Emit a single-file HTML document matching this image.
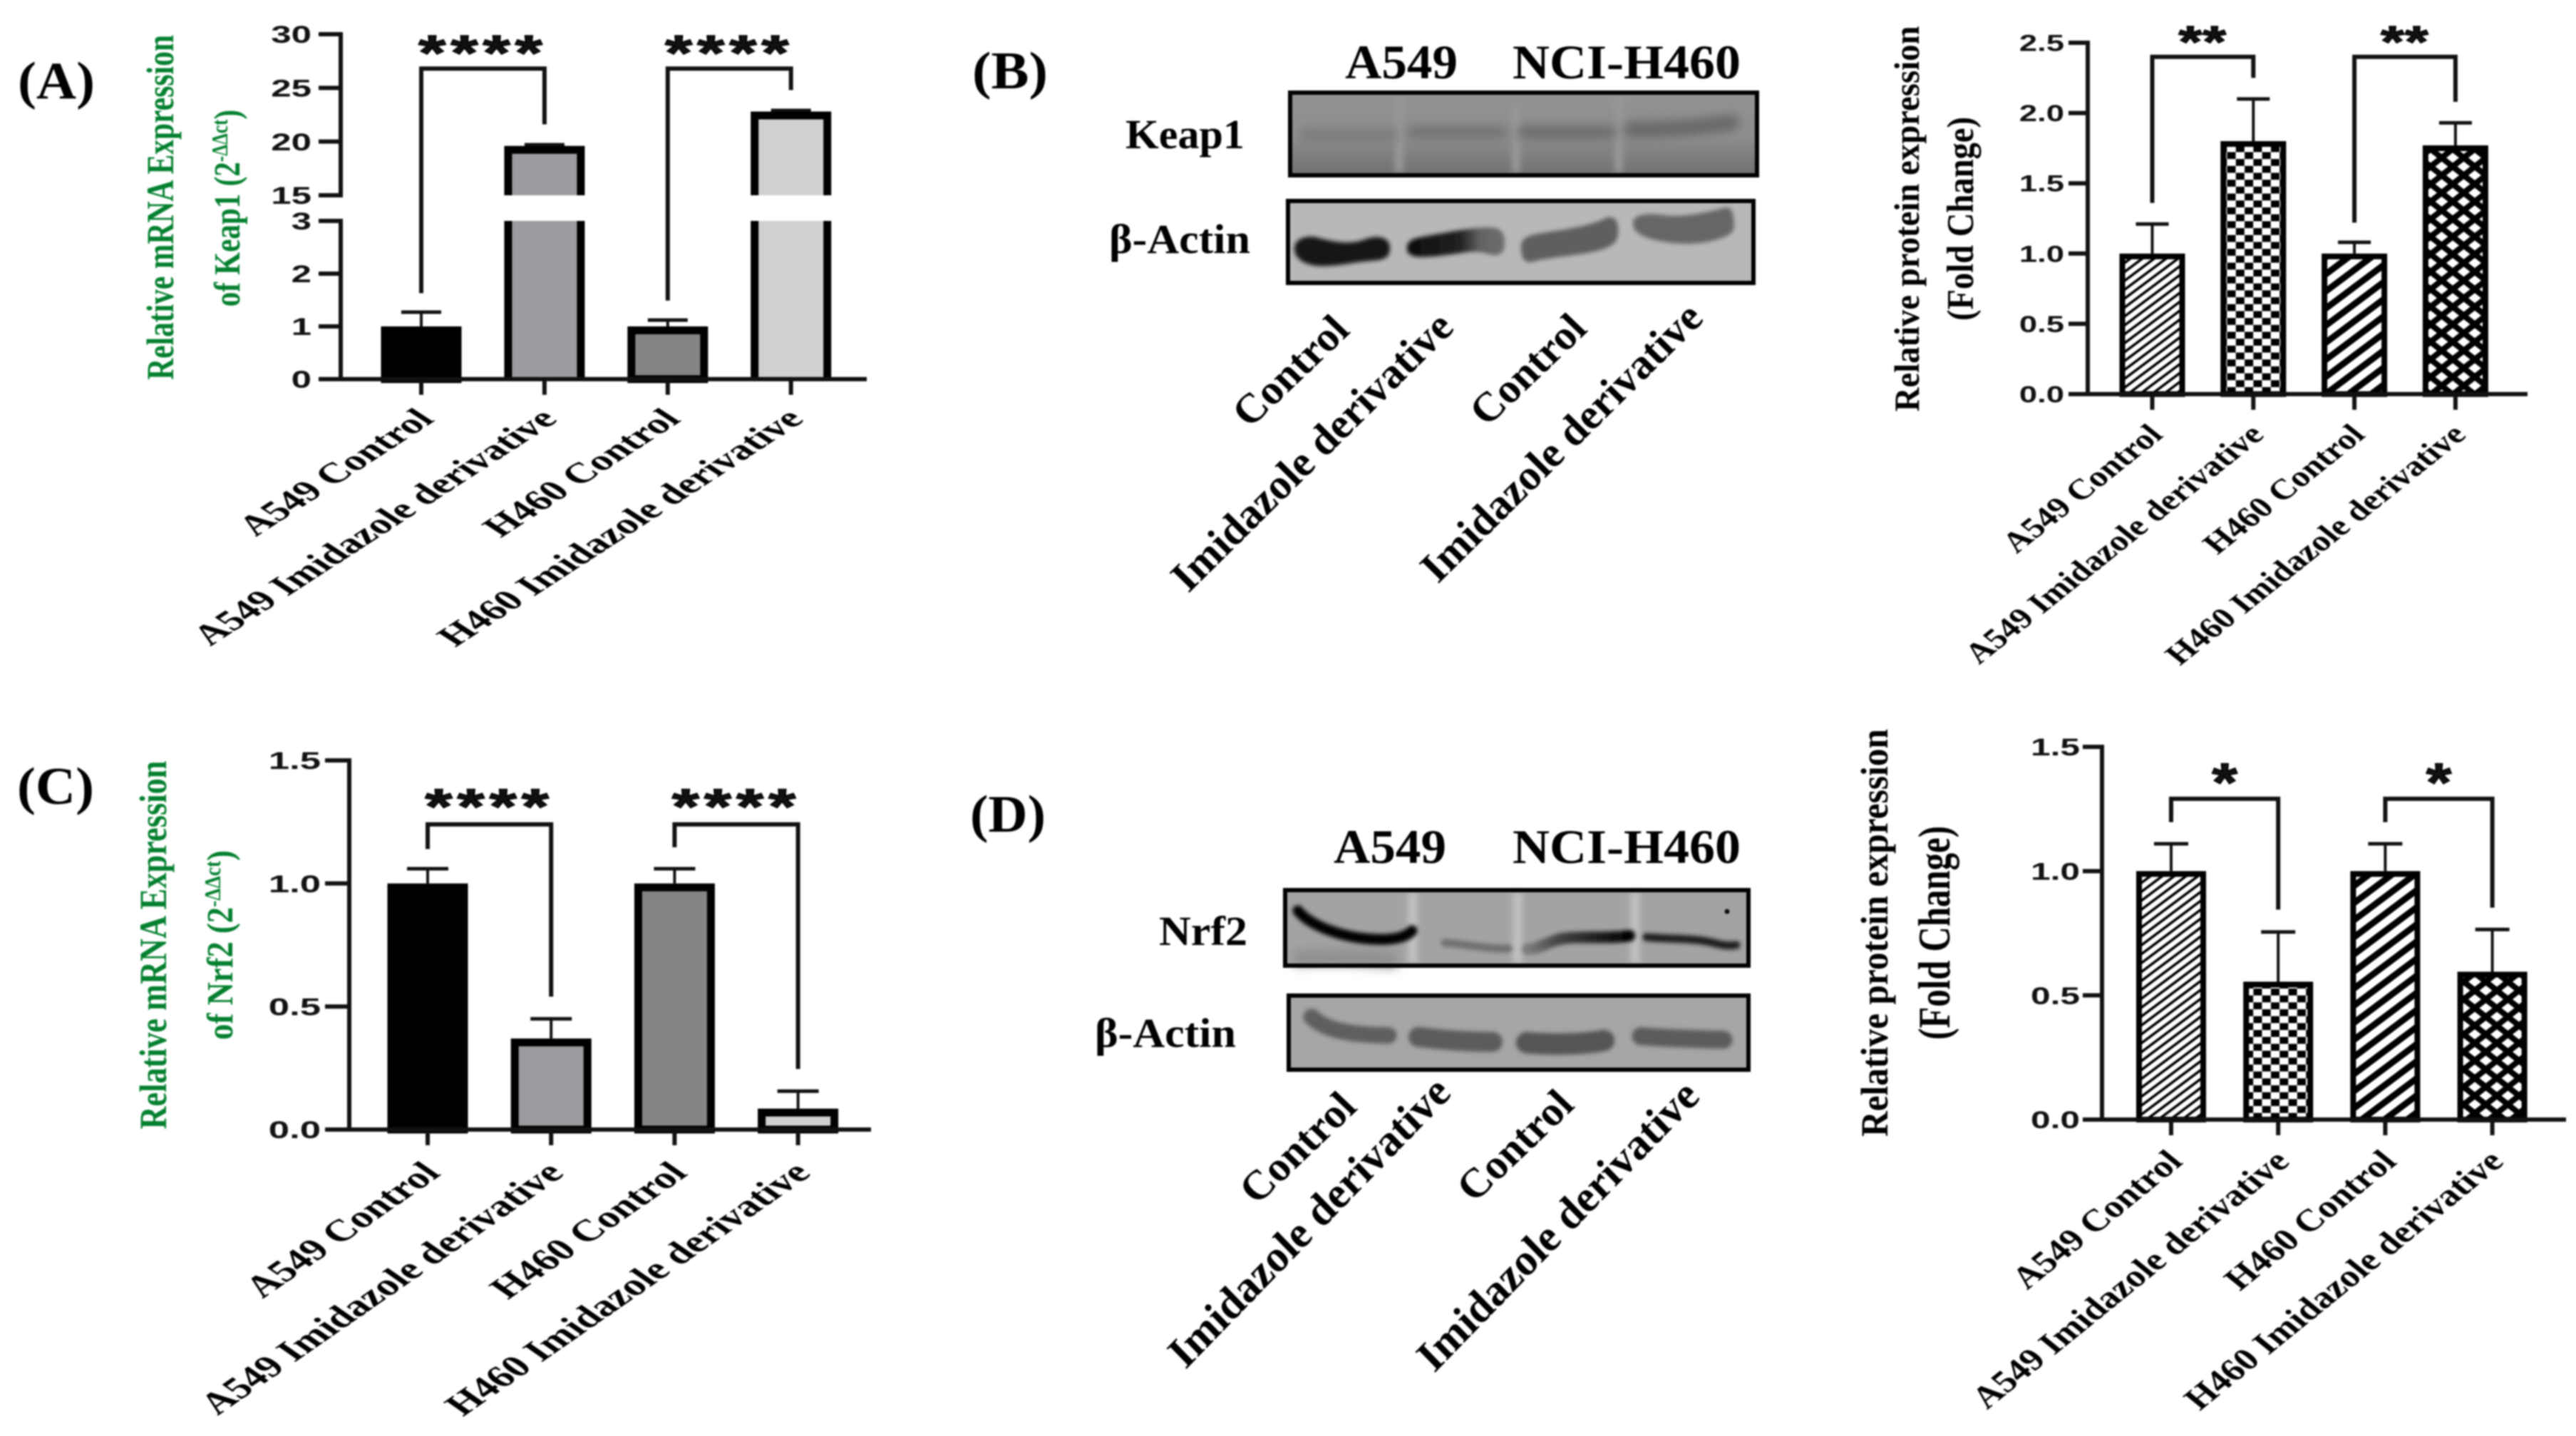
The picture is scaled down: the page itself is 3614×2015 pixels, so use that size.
<!DOCTYPE html>
<html lang="en">
<head>
<meta charset="utf-8">
<title>Keap1 and Nrf2 expression figure</title>
<style>
html,body{margin:0;padding:0;background:#fff;}
body{width:3614px;height:2015px;overflow:hidden;}
#figure{display:block;filter:blur(1px);}
.serif{font-family:"Liberation Serif",serif;font-weight:700;fill:#000;}
.sans{font-family:"Liberation Sans",sans-serif;font-weight:700;fill:#111;}
.green{fill:#04802f;}
</style>
</head>
<body>
<svg id="figure" width="3614" height="2015" viewBox="0 0 3614 2015">
<defs>
  <pattern id="hatch-fine" patternUnits="userSpaceOnUse" width="16.7" height="12.5">
    <rect width="16.7" height="12.5" fill="#fff"/>
    <path d="M-4.2 3.1L4.2 -3.1M0 12.5L16.7 0M12.5 15.6L20.9 9.4" stroke="#000" stroke-width="3.6" fill="none"/>
  </pattern>
  <pattern id="hatch-wide" patternUnits="userSpaceOnUse" width="32" height="24">
    <rect width="32" height="24" fill="#fff"/>
    <path d="M-8 6L8 -6M0 24L32 0M24 30L40 18" stroke="#000" stroke-width="9" fill="none"/>
  </pattern>
  <pattern id="checker" patternUnits="userSpaceOnUse" width="24.6" height="19.4">
    <rect width="24.6" height="19.4" fill="#fff"/>
    <rect x="0.3" y="0" width="12" height="9.7" fill="#000"/>
    <rect x="12.6" y="9.7" width="12" height="9.7" fill="#000"/>
  </pattern>
  <pattern id="diamond" patternUnits="userSpaceOnUse" width="31" height="24.6">
    <rect width="31" height="24.6" fill="#000"/>
    <path d="M0 -7L9 0L0 7L-9 0ZM31 -7L40 0L31 7L22 0ZM0 17.6L9 24.6L0 31.6L-9 24.6ZM31 17.6L40 24.6L31 31.6L22 24.6ZM15.5 5.3L24.5 12.3L15.5 19.3L6.5 12.3Z" fill="#fff"/>
  </pattern>
  <filter id="band-blur" filterUnits="userSpaceOnUse" x="1790" y="100" width="700" height="1420"><feGaussianBlur stdDeviation="3"/></filter>
  <filter id="soft-blur" filterUnits="userSpaceOnUse" x="1790" y="100" width="700" height="1420"><feGaussianBlur stdDeviation="7"/></filter>
  <filter id="streak-blur" filterUnits="userSpaceOnUse" x="1790" y="100" width="700" height="1420"><feGaussianBlur stdDeviation="4"/></filter>
  <linearGradient id="keap-bg" x1="0" y1="0" x2="0" y2="1">
    <stop offset="0" stop-color="#939393"/><stop offset="0.55" stop-color="#8d8d8d"/><stop offset="1" stop-color="#6f6f6f"/>
  </linearGradient>
  <linearGradient id="lane2-shade" x1="0" y1="0" x2="1" y2="0">
    <stop offset="0" stop-color="#0c0c0c"/><stop offset="0.55" stop-color="#222"/><stop offset="0.75" stop-color="#636363"/><stop offset="1" stop-color="#6d6d6d"/>
  </linearGradient>
  <linearGradient id="lane3-shade" gradientUnits="userSpaceOnUse" x1="2143" y1="0" x2="2286" y2="0">
    <stop offset="0" stop-color="#7d7d7d"/><stop offset="0.3" stop-color="#444"/><stop offset="1" stop-color="#000"/>
  </linearGradient>
</defs>

<!-- panel letters -->
<text class="serif" x="25" y="138" font-size="74" textLength="108" lengthAdjust="spacingAndGlyphs">(A)</text>
<text class="serif" x="1364" y="124" font-size="74" textLength="106" lengthAdjust="spacingAndGlyphs">(B)</text>
<text class="serif" x="24" y="1128" font-size="74" textLength="108" lengthAdjust="spacingAndGlyphs">(C)</text>
<text class="serif" x="1361" y="1167" font-size="74" textLength="106" lengthAdjust="spacingAndGlyphs">(D)</text>

<!-- y axis titles -->
<text class="serif green" transform="translate(243,291) rotate(-90)" text-anchor="middle" font-size="54" textLength="484" lengthAdjust="spacingAndGlyphs">Relative mRNA Expression</text>
<text class="serif green" transform="translate(336,292) rotate(-90) scale(0.79,1)" text-anchor="middle" font-size="52">of Keap1 (2<tspan font-size="32" dy="-17">-ΔΔct</tspan><tspan dy="17">)</tspan></text>
<text class="serif green" transform="translate(233,1326) rotate(-90)" text-anchor="middle" font-size="54" textLength="517" lengthAdjust="spacingAndGlyphs">Relative mRNA Expression</text>
<text class="serif green" transform="translate(326,1326) rotate(-90) scale(0.86,1)" text-anchor="middle" font-size="52">of Nrf2 (2<tspan font-size="32" dy="-17">-ΔΔct</tspan><tspan dy="17">)</tspan></text>
<text class="serif" transform="translate(2692,307) rotate(-90)" text-anchor="middle" font-size="50" textLength="541" lengthAdjust="spacingAndGlyphs">Relative protein expression</text>
<text class="serif" transform="translate(2768,307) rotate(-90)" text-anchor="middle" font-size="53" textLength="286" lengthAdjust="spacingAndGlyphs">(Fold Change)</text>
<text class="serif" transform="translate(2648,1309) rotate(-90)" text-anchor="middle" font-size="54" textLength="572" lengthAdjust="spacingAndGlyphs">Relative protein expression</text>
<text class="serif" transform="translate(2735,1309) rotate(-90)" text-anchor="middle" font-size="64" textLength="300" lengthAdjust="spacingAndGlyphs">(Fold Change)</text>

<!-- western blot B -->
<g>
  <text class="serif" x="1887" y="110" font-size="68" textLength="158" lengthAdjust="spacingAndGlyphs">A549</text>
  <text class="serif" x="2122" y="110" font-size="68" textLength="320" lengthAdjust="spacingAndGlyphs">NCI-H460</text>
  <text class="serif" x="1579" y="208" font-size="58" textLength="167" lengthAdjust="spacingAndGlyphs">Keap1</text>
  <text class="serif" x="1556" y="355" font-size="58" textLength="198" lengthAdjust="spacingAndGlyphs">β-Actin</text>
  <g transform="translate(-3,0)">
    <rect x="1813" y="130" width="655" height="116" fill="url(#keap-bg)"/>
    <path d="M1966 135V242M2274 135V242M2130 150V242" stroke="#979797" stroke-width="12" filter="url(#streak-blur)" fill="none"/>
    <path d="M1835 190H1955" stroke="#7c7c7c" stroke-width="18" stroke-linecap="round" filter="url(#soft-blur)" fill="none"/>
    <path d="M1986 186H2108" stroke="#737373" stroke-width="18" stroke-linecap="round" filter="url(#soft-blur)" fill="none"/>
    <path d="M2142 186H2260" stroke="#6e6e6e" stroke-width="20" stroke-linecap="round" filter="url(#soft-blur)" fill="none"/>
    <path d="M2292 182Q2370 182 2432 172" stroke="#686868" stroke-width="22" stroke-linecap="round" filter="url(#soft-blur)" fill="none"/>
    <rect x="1813" y="130" width="655" height="116" fill="none" stroke="#000" stroke-width="6"/>
  </g>
  <g transform="translate(-3,0)">
    <rect x="1810" y="282" width="653" height="115" fill="#b8b8b8"/>
    <path d="M1819 348C1820 335 1835 330 1850 333C1875 340 1900 344 1920 335C1935 330 1953 332 1953 348C1953 362 1945 365 1925 366C1900 368 1875 375 1850 373C1830 370 1819 362 1819 348Z" fill="#161616" filter="url(#band-blur)"/>
    <path d="M1977 348C1977 338 1985 335 2000 332C2030 327 2060 320 2090 319C2108 319 2114 325 2114 340C2114 355 2108 358 2098 358C2085 355 2078 352 2060 354C2030 358 2005 362 1990 360C1980 358 1977 355 1977 348Z" fill="url(#lane2-shade)" filter="url(#band-blur)"/>
    <path d="M2137 345C2138 335 2145 331 2160 328C2200 322 2235 317 2258 305C2270 303 2274 312 2273 328C2272 345 2255 350 2230 355C2200 360 2170 362 2150 368C2140 368 2137 360 2137 345Z" fill="#5f5f5f" filter="url(#band-blur)"/>
    <path d="M2294 312C2295 302 2310 299 2330 301C2360 306 2390 300 2425 291C2435 290 2437 310 2435 322C2433 332 2400 342 2370 342C2340 342 2310 335 2300 326C2295 322 2294 318 2294 312Z" fill="#666" filter="url(#band-blur)"/>
    <rect x="1810" y="282" width="653" height="115" fill="none" stroke="#000" stroke-width="6"/>
  </g>
  <text class="serif" transform="translate(1896,466) scale(1.05,1) rotate(-45)" text-anchor="end" font-size="58">Control</text>
  <text class="serif" transform="translate(2042,462) scale(1.01,1) rotate(-45)" text-anchor="end" font-size="60">Imidazole derivative</text>
  <text class="serif" transform="translate(2229,464) scale(1.05,1) rotate(-45)" text-anchor="end" font-size="58">Control</text>
  <text class="serif" transform="translate(2392,449) scale(1.01,1) rotate(-45)" text-anchor="end" font-size="60">Imidazole derivative</text>
</g>

<!-- western blot D -->
<g>
  <text class="serif" x="1871" y="1211" font-size="68" textLength="158" lengthAdjust="spacingAndGlyphs">A549</text>
  <text class="serif" x="2122" y="1211" font-size="68" textLength="320" lengthAdjust="spacingAndGlyphs">NCI-H460</text>
  <text class="serif" x="1626" y="1326" font-size="58" textLength="124" lengthAdjust="spacingAndGlyphs">Nrf2</text>
  <text class="serif" x="1536" y="1469" font-size="58" textLength="198" lengthAdjust="spacingAndGlyphs">β-Actin</text>
  <g>
    <rect x="1803" y="1249" width="650" height="106" fill="#a3a3a3"/>
    <path d="M1982 1252V1352M2129 1252V1352M2294 1252V1352" stroke="#c0c0c0" stroke-width="14" filter="url(#streak-blur)" fill="none"/>
    <path d="M1815 1345Q1880 1340 1960 1348" stroke="#8f8f8f" stroke-width="22" filter="url(#soft-blur)" fill="none"/>
    <path d="M1821 1278C1835 1295 1870 1312 1915 1317C1945 1320 1970 1318 1981 1306" stroke="#060606" stroke-width="15" stroke-linecap="round" fill="none" filter="url(#band-blur)"/>
    <path d="M2027 1323C2060 1325 2085 1332 2116 1331" stroke="#6f6f6f" stroke-width="11" stroke-linecap="round" fill="none" filter="url(#band-blur)"/>
    <path d="M2143 1332C2165 1330 2175 1318 2200 1316C2230 1314 2260 1317 2286 1313" stroke="url(#lane3-shade)" stroke-width="16" stroke-linecap="round" fill="none" filter="url(#band-blur)"/>
    <path d="M2310 1315C2340 1318 2370 1316 2400 1322C2415 1326 2425 1328 2436 1326" stroke="#1c1c1c" stroke-width="11" stroke-linecap="round" fill="none" filter="url(#band-blur)"/>
    <circle cx="2423" cy="1279" r="3.5" fill="#111"/>
    <rect x="1803" y="1249" width="650" height="106" fill="none" stroke="#000" stroke-width="6"/>
  </g>
  <g>
    <rect x="1808" y="1397" width="645" height="104" fill="#a6a6a6"/>
    <path d="M1840 1427C1857 1443 1885 1452 1948 1453" stroke="#5e5e5e" stroke-width="23" stroke-linecap="round" fill="none" filter="url(#band-blur)"/>
    <path d="M1990 1455C2020 1459 2060 1462 2094 1462" stroke="#5c5c5c" stroke-width="28" stroke-linecap="round" fill="none" filter="url(#band-blur)"/>
    <path d="M2142 1463C2170 1466 2220 1466 2250 1460" stroke="#555" stroke-width="30" stroke-linecap="round" fill="none" filter="url(#band-blur)"/>
    <path d="M2302 1454C2335 1457 2380 1458 2418 1459" stroke="#5c5c5c" stroke-width="25" stroke-linecap="round" fill="none" filter="url(#band-blur)"/>
    <rect x="1808" y="1397" width="645" height="104" fill="none" stroke="#000" stroke-width="6"/>
  </g>
  <text class="serif" transform="translate(1906,1556) scale(1.05,1) rotate(-45)" text-anchor="end" font-size="58">Control</text>
  <text class="serif" transform="translate(2038,1536) scale(0.97,1) rotate(-45)" text-anchor="end" font-size="62.5">Imidazole derivative</text>
  <text class="serif" transform="translate(2211,1553) scale(1.05,1) rotate(-45)" text-anchor="end" font-size="58">Control</text>
  <text class="serif" transform="translate(2387,1541) scale(0.97,1) rotate(-45)" text-anchor="end" font-size="62.5">Imidazole derivative</text>
</g>
</svg>

<script>
// ---------- chart data ----------
const categories = ['A549 Control', 'A549 Imidazole derivative', 'H460 Control', 'H460 Imidazole derivative'];

const keap1MrnaValues = [1, 19.5, 1, 22.7];
const keap1MrnaErrorTops = [1.27, 19.7, 1.12, 22.9];
const keap1MrnaTickLabels = ['0', '1', '2', '3', '15', '20', '25', '30'];
const keap1MrnaBracketTops = [26.8, 26.8];
const keap1MrnaBracketLeftEnds = [1.63, 1.49];
const keap1MrnaBracketRightEnds = [21.6, 24.8];
const keap1MrnaStars = ['****', '****'];

const keap1ProteinValues = [1.0, 1.8, 1.0, 1.77];
const keap1ProteinErrorTops = [1.21, 2.10, 1.08, 1.93];
const keap1ProteinTickLabels = ['0.0', '0.5', '1.0', '1.5', '2.0', '2.5'];
const keap1ProteinBracketTops = [2.40, 2.40];
const keap1ProteinBracketLeftEnds = [1.36, 1.22];
const keap1ProteinBracketRightEnds = [2.25, 2.08];
const keap1ProteinStars = ['**', '**'];

const nrf2MrnaValues = [1.0, 0.37, 1.0, 0.085];
const nrf2MrnaErrorTops = [1.06, 0.45, 1.06, 0.156];
const nrf2MrnaTickLabels = ['0.0', '0.5', '1.0', '1.5'];
const nrf2MrnaBracketTops = [1.24, 1.24];
const nrf2MrnaBracketLeftEnds = [1.14, 1.147];
const nrf2MrnaBracketRightEnds = [0.54, 0.246];
const nrf2MrnaStars = ['****', '****'];

const nrf2ProteinValues = [1.0, 0.555, 1.0, 0.595];
const nrf2ProteinErrorTops = [1.11, 0.755, 1.11, 0.765];
const nrf2ProteinTickLabels = ['0.0', '0.5', '1.0', '1.5'];
const nrf2ProteinBracketTops = [1.291, 1.291];
const nrf2ProteinBracketLeftEnds = [1.197, 1.197];
const nrf2ProteinBracketRightEnds = [0.845, 0.853];
const nrf2ProteinStars = ['*', '*'];

// ---------- styles ----------
const solidFills = ['#000000', '#9c9ba0', '#858585', '#d0d0d0'];
const patternFills = ['url(#hatch-fine)', 'url(#checker)', 'url(#hatch-wide)', 'url(#diamond)'];

// ---------- helpers ----------
const figure = document.getElementById('figure');
const NS = figure.namespaceURI;

function mk(tag, attrs, parent) {
  const el = document.createElementNS(NS, tag);
  for (const k in attrs) el.setAttribute(k, attrs[k]);
  parent.appendChild(el);
  return el;
}

function linearScale(max, yZero, yTop) {
  return v => yZero - (v / max) * (yZero - yTop);
}

function brokenScale(lowMax, highMin, highMax, yZero, yLowTop, yHighBottom, yTop) {
  return v => v <= lowMax
    ? yZero - (v / lowMax) * (yZero - yLowTop)
    : yHighBottom - ((v - highMin) / (highMax - highMin)) * (yHighBottom - yTop);
}

function drawChart(key, c) {
  const y = c.yScale;
  const xAt = i => c.x0 + i * c.step;
  const g = mk('g', {}, figure);
  
  

  // error bars
  c.errorTops.forEach((top, i) => {
    const stem = mk('line', {x1: xAt(i), x2: xAt(i), y1: y(c.values[i]), y2: y(top), stroke: '#111', 'stroke-width': 4}, g);
    
    
    const cap = mk('line', {x1: xAt(i) - c.capHalf, x2: xAt(i) + c.capHalf, y1: y(top), y2: y(top), stroke: '#111', 'stroke-width': 5}, g);
    
    
  });

  // bars
  c.values.forEach((v, i) => {
    const cx = xAt(i);
    const sw = c.barStroke;
    const left = cx - c.barWidth / 2 + sw / 2;
    const w = c.barWidth - sw;
    const yZero = y(0);
    if (c.breakLow !== undefined && v > c.breakHigh) {
      const lowTop = y(c.breakLow);
      const highBottom = y(c.breakHigh);
      const barTop = y(v);
      const bar = mk('g', {}, g);
      
      
      mk('rect', {x: left, y: lowTop, width: w, height: yZero - lowTop, fill: c.fills[i]}, bar);
      mk('rect', {x: left, y: barTop, width: w, height: highBottom - barTop, fill: c.fills[i]}, bar);
      const d = 'M' + left + ' ' + yZero + 'V' + lowTop + 'M' + (left + w) + ' ' + yZero + 'V' + lowTop +
        'M' + left + ' ' + highBottom + 'V' + (barTop + 4) + 'H' + (left + w) + 'V' + highBottom;
      mk('path', {d: d, fill: 'none', stroke: '#000', 'stroke-width': sw}, bar);
    } else {
      const top = y(v) + sw / 2;
      const bar = mk('rect', {x: left, y: top, width: w, height: yZero - top, fill: c.fills[i], stroke: '#000', 'stroke-width': sw}, g);
      
      
    }
  });

  // y axis
  c.axisSegments.forEach((seg, i) => {
    const axis = mk('line', {x1: c.axisX, x2: c.axisX, y1: y(seg[0]) + 3, y2: y(seg[1]) - 3, stroke: '#111', 'stroke-width': 6}, g);
    
    
  });
  c.tickLabels.forEach(label => {
    const ty = y(parseFloat(label));
    const tick = mk('line', {x1: c.tickStart, x2: c.axisX, y1: ty, y2: ty, stroke: '#111', 'stroke-width': 6}, g);
    
    
    const txt = mk('text', {class: 'sans', 'text-anchor': 'end', 'font-size': c.tickFont,
      transform: 'translate(' + c.tickLabelX + ',' + (ty + c.tickFont * 0.36) + ') scale(' + c.tickStretch + ',1)'}, g);
    txt.textContent = label;
    
    
  });

  // x axis
  const xAxis = mk('line', {x1: c.tickStart, x2: c.xEnd, y1: y(0), y2: y(0), stroke: '#111', 'stroke-width': 6}, g);
  
  

  categories.forEach((cat, i) => {
    const tick = mk('line', {x1: xAt(i), x2: xAt(i), y1: y(0), y2: y(0) + c.xTickLen, stroke: '#111', 'stroke-width': 6}, g);
    
    
    const txt = mk('text', {class: 'serif', 'text-anchor': 'end', 'font-size': c.labelFont,
      transform: 'translate(' + (xAt(i) + c.labelDx) + ',' + (y(0) + c.labelDy) + ') scale(' + c.labelStretch + ',1) rotate(-45)'}, g);
    txt.textContent = cat;
    
    
  });

  // significance brackets
  c.stars.forEach((s, b) => {
    const xl = xAt(b * 2);
    const xr = xAt(b * 2 + 1);
    const d = 'M' + xl + ' ' + y(c.bracketLeftEnds[b]) + 'V' + y(c.bracketTops[b]) + 'H' + xr + 'V' + y(c.bracketRightEnds[b]);
    const br = mk('path', {d: d, fill: 'none', stroke: '#111', 'stroke-width': 6}, g);
    
    
    const st = mk('text', {class: 'sans', 'text-anchor': 'middle', 'font-size': c.starFont, 'letter-spacing': c.starGap,
      stroke: '#000', 'stroke-width': 1.5,
      transform: 'translate(' + (xl + xr) / 2 + ',' + (y(c.bracketTops[b]) - c.starLift + c.starFont * 0.57) + ') scale(' + c.starStretch + ',1)'}, g);
    st.textContent = s;
    
    
  });
}

// ---------- charts ----------
drawChart('keap1-mrna', {
  values: keap1MrnaValues, errorTops: keap1MrnaErrorTops, tickLabels: keap1MrnaTickLabels,
  bracketTops: keap1MrnaBracketTops, bracketLeftEnds: keap1MrnaBracketLeftEnds, bracketRightEnds: keap1MrnaBracketRightEnds,
  stars: keap1MrnaStars, fills: solidFills,
  yScale: brokenScale(3, 15, 30, 532, 310, 274, 48),
  breakLow: 3, breakHigh: 15, axisSegments: [[0, 3], [15, 30]],
  x0: 591, step: 172.9, barWidth: 113, barStroke: 11, capHalf: 28,
  axisX: 478, tickStart: 447, xEnd: 1216, xTickLen: 22, tickLabelX: 437, tickFont: 34, tickStretch: 1.5,
  labelFont: 40, labelStretch: 1.54, labelDx: 20, labelDy: 58,
  starFont: 70, starStretch: 1.4, starGap: 5, starLift: 38
});

drawChart('keap1-protein', {
  values: keap1ProteinValues, errorTops: keap1ProteinErrorTops, tickLabels: keap1ProteinTickLabels,
  bracketTops: keap1ProteinBracketTops, bracketLeftEnds: keap1ProteinBracketLeftEnds, bracketRightEnds: keap1ProteinBracketRightEnds,
  stars: keap1ProteinStars, fills: patternFills,
  yScale: linearScale(2.5, 553, 60), axisSegments: [[0, 2.5]],
  x0: 3019.5, step: 141.8, barWidth: 92, barStroke: 8, capHalf: 23,
  axisX: 2929, tickStart: 2902, xEnd: 3546, xTickLen: 22, tickLabelX: 2896, tickFont: 32, tickStretch: 1.42,
  labelFont: 40.5, labelStretch: 1.25, labelDx: 17, labelDy: 59,
  starFont: 62, starStretch: 1.35, starGap: 1, starLift: 35
});

drawChart('nrf2-mrna', {
  values: nrf2MrnaValues, errorTops: nrf2MrnaErrorTops, tickLabels: nrf2MrnaTickLabels,
  bracketTops: nrf2MrnaBracketTops, bracketLeftEnds: nrf2MrnaBracketLeftEnds, bracketRightEnds: nrf2MrnaBracketRightEnds,
  stars: nrf2MrnaStars, fills: solidFills,
  yScale: linearScale(1.5, 1585, 1067), axisSegments: [[0, 1.5]],
  x0: 600, step: 173.2, barWidth: 113, barStroke: 11, capHalf: 29,
  axisX: 490, tickStart: 456, xEnd: 1222, xTickLen: 22, tickLabelX: 450, tickFont: 34, tickStretch: 1.55,
  labelFont: 42.7, labelStretch: 1.44, labelDx: 20, labelDy: 63,
  starFont: 70, starStretch: 1.4, starGap: 5, starLift: 41
});

drawChart('nrf2-protein', {
  values: nrf2ProteinValues, errorTops: nrf2ProteinErrorTops, tickLabels: nrf2ProteinTickLabels,
  bracketTops: nrf2ProteinBracketTops, bracketLeftEnds: nrf2ProteinBracketLeftEnds, bracketRightEnds: nrf2ProteinBracketRightEnds,
  stars: nrf2ProteinStars, fills: patternFills,
  yScale: linearScale(1.5, 1571, 1048), axisSegments: [[0, 1.5]],
  x0: 3046, step: 150.2, barWidth: 98, barStroke: 8, capHalf: 24,
  axisX: 2949, tickStart: 2922, xEnd: 3600, xTickLen: 22, tickLabelX: 2918, tickFont: 34, tickStretch: 1.46,
  labelFont: 43.7, labelStretch: 1.23, labelDx: 18, labelDy: 61,
  starFont: 76, starStretch: 1.2, starGap: 0, starLift: 40
});
</script>
</body>
</html>
